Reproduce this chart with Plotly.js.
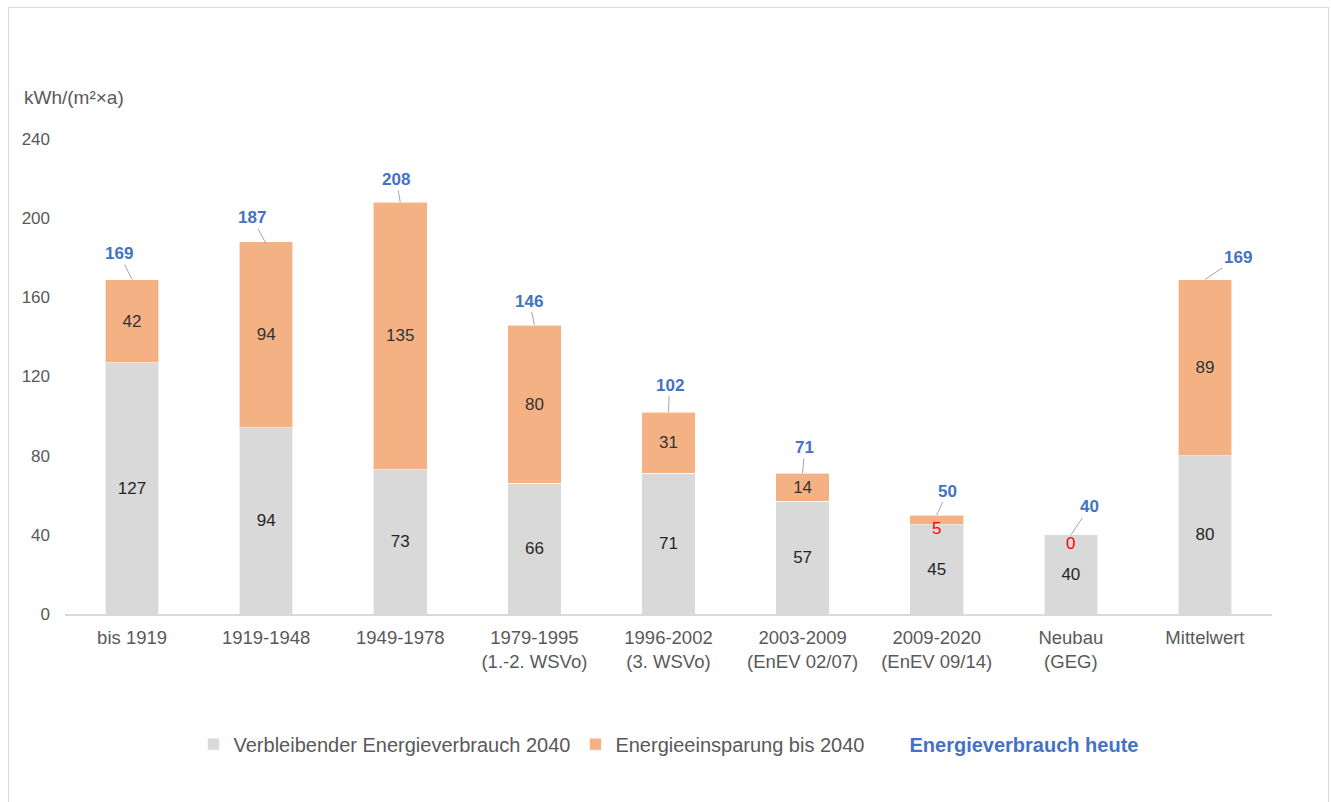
<!DOCTYPE html>
<html>
<head>
<meta charset="utf-8">
<script src="https://cdn.plot.ly/plotly-3.0.1.min.js"></script>
<style>
  body { margin: 0; background: #fff; }
  #wrap { position: relative; width: 1331px; height: 802px; }
  #chart { width: 1331px; height: 802px; }
  #frame {
    position: absolute; left: 8px; top: 7px; width: 1321px; height: 800px;
    border: 1px solid #d9d9d9; box-sizing: border-box; pointer-events: none;
  }
</style>
</head>
<body>
<div id="wrap">
  <div id="chart"></div>
  <div id="frame"></div>
</div>
<script>
// Baualtersklassen und Energiekennwerte in kWh/(m²×a)
var categories = ["bis 1919", "1919-1948", "1949-1978", "1979-1995", "1996-2002",
  "2003-2009", "2009-2020", "Neubau", "Mittelwert"]
var tickLabels = ["bis 1919", "1919-1948", "1949-1978", "1979-1995<br>(1.-2. WSVo)",
  "1996-2002<br>(3. WSVo)", "2003-2009<br>(EnEV 02/07)", "2009-2020<br>(EnEV 09/14)",
  "Neubau<br>(GEG)", "Mittelwert"]
var remaining = [127, 94, 73, 66, 71, 57, 45, 40, 80]
var savings = [42, 94, 135, 80, 31, 14, 5, 0, 89]
var totals = [169, 187, 208, 146, 102, 71, 50, 40, 169]

var grey = "#d9d9d9"
var orange = "#f4b183"
var blue = "#4472c4"
var textGrey = "#595959"

var remainingTrace = {
  type: "bar",
  name: "Verbleibender Energieverbrauch 2040",
  x: categories,
  y: remaining,
  marker: { color: grey, line: { color: "rgba(255,255,255,0.6)", width: 1 } },
  text: remaining.map(String),
  textposition: "inside",
  insidetextanchor: "middle",
  textangle: 0,
  constraintext: "none",
  textfont: { family: "Liberation Sans, Arial, sans-serif", size: 17, color: "#262626" },
  hoverinfo: "skip",
}

var savingsTrace = {
  type: "bar",
  name: "Energieeinsparung bis 2040",
  x: categories,
  y: savings,
  marker: { color: orange, line: { color: "rgba(255,255,255,0.6)", width: 1 } },
  text: savings.map(String),
  // kleine Segmente bekommen ein eigenes rotes Label
  textposition: savings.map(function (v) { return v < 10 ? "none" : "inside" }),
  insidetextanchor: "middle",
  textangle: 0,
  constraintext: "none",
  textfont: { family: "Liberation Sans, Arial, sans-serif", size: 17, color: "#333333" },
  hoverinfo: "skip",
}

// nur für den Legendeneintrag
var totalTrace = {
  type: "scatter",
  mode: "lines",
  name: '<span style="color:' + blue + '"><b>Energieverbrauch heute</b></span>',
  x: categories,
  y: totals,
  line: { width: 0, color: "rgba(0,0,0,0)" },
  hoverinfo: "skip",
}

// Versatz der Gesamtwert-Labels (Pixel)
var labelShift = [[-13, -26], [-14, -26], [-4, -23], [-5, -24], [1, -27],
  [2, -26], [11, -24], [19, -28], [33, -22]]

var annotations = totals.map(function (t, i) {
  return {
    x: categories[i], y: t, xref: "x", yref: "y",
    text: "<b>" + t + "</b>",
    showarrow: true, arrowhead: 0, arrowwidth: 1, arrowcolor: "#a6a6a6",
    standoff: 0, ax: labelShift[i][0], ay: labelShift[i][1],
    font: { family: "Liberation Sans, Arial, sans-serif", size: 17, color: blue },
  }
})

savings.forEach(function (v, i) {
  if (v < 10) {
    annotations.push({
      x: categories[i], y: remaining[i] + v / 2, xref: "x", yref: "y",
      text: String(v), showarrow: false, yshift: -9,
      font: { family: "Liberation Sans, Arial, sans-serif", size: 17, color: "#ff0000" },
    })
  }
})

annotations.push({
  text: "kWh/(m²×a)", xref: "paper", yref: "paper", x: -0.036, y: 1.088,
  xanchor: "left", yanchor: "middle", showarrow: false,
  font: { family: "Liberation Sans, Arial, sans-serif", size: 19, color: textGrey },
})

var layout = {
  width: 1331,
  height: 802,
  margin: { l: 65, r: 59, t: 139, b: 188 },
  paper_bgcolor: "#ffffff",
  plot_bgcolor: "#ffffff",
  barmode: "stack",
  bargap: 0.6,
  font: { family: "Liberation Sans, Arial, sans-serif", color: textGrey },
  xaxis: {
    type: "category",
    tickvals: categories,
    ticktext: tickLabels,
    showline: true,
    linecolor: grey,
    linewidth: 1.5,
    ticks: "",
    showgrid: false,
    ticklabelstandoff: 6,
    tickfont: { size: 18.5, color: textGrey },
  },
  yaxis: {
    range: [0, 240],
    dtick: 40,
    showgrid: false,
    zeroline: false,
    showline: false,
    ticks: "",
    ticklabelstandoff: 14,
    tickfont: { size: 17, color: textGrey },
  },
  showlegend: true,
  legend: {
    orientation: "h",
    x: 0.5, xanchor: "center",
    y: -0.274, yanchor: "middle",
    font: { size: 20, color: textGrey },
    traceorder: "normal",
  },
  annotations: annotations,
}

Plotly.newPlot("chart", [remainingTrace, savingsTrace, totalTrace], layout, { displayModeBar: false })
</script>
</body>
</html>
